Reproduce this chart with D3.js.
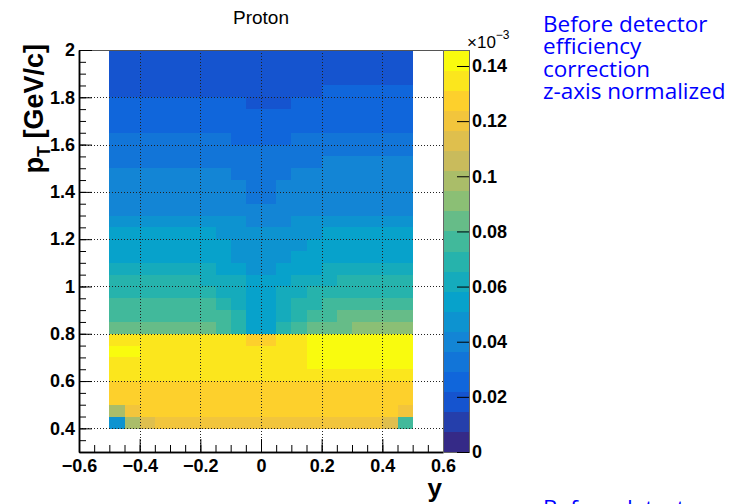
<!DOCTYPE html>
<html>
<head>
<meta charset="utf-8">
<script src="https://cdn.jsdelivr.net/npm/d3@7"></script>
<style>
  body { margin: 0; background: #fff; }
  svg text { font-family: "Liberation Sans", Arial, sans-serif; }
</style>
</head>
<body>
<div id="chart"></div>
<script>
// bin centres (rapidity y, transverse momentum pT)
var rapidityCenters = [-0.475, -0.425, -0.375, -0.325, -0.275, -0.225, -0.175, -0.125, -0.075, -0.025,
                        0.025, 0.075, 0.125, 0.175, 0.225, 0.275, 0.325, 0.375, 0.425, 0.475];
var ptCenters = [1.975, 1.925, 1.875, 1.825, 1.775, 1.725, 1.675, 1.625, 1.575, 1.525, 1.475, 1.425,
                 1.375, 1.325, 1.275, 1.225, 1.175, 1.125, 1.075, 1.025, 0.975, 0.925, 0.875, 0.825,
                 0.775, 0.725, 0.675, 0.625, 0.575, 0.525, 0.475, 0.425];
var binWidth = 0.05;

// z values (x10^-3), one row per pT bin, top row first
var zValues = [
  [.018,.018,.018,.018,.018,.018,.018,.018,.017,.016,.016,.017,.018,.018,.018,.018,.018,.018,.018,.018],
  [.018,.018,.018,.018,.018,.018,.018,.018,.017,.016,.016,.017,.018,.018,.018,.018,.018,.018,.018,.018],
  [.019,.019,.019,.019,.019,.019,.019,.019,.018,.016,.016,.018,.019,.019,.019,.019,.019,.019,.019,.019],
  [.021,.021,.021,.021,.021,.021,.021,.020,.019,.017,.017,.019,.020,.021,.023,.023,.023,.023,.023,.023],
  [.024,.024,.024,.024,.024,.024,.024,.023,.022,.020,.020,.021,.023,.024,.025,.025,.025,.025,.025,.025],
  [.026,.026,.026,.026,.026,.026,.026,.025,.025,.023,.023,.024,.025,.026,.026,.026,.026,.026,.026,.026],
  [.028,.028,.028,.028,.028,.028,.028,.027,.026,.025,.025,.026,.027,.028,.028,.028,.028,.028,.028,.028],
  [.031,.031,.031,.031,.031,.031,.031,.030,.029,.027,.027,.028,.030,.031,.031,.031,.031,.031,.031,.031],
  [.033,.033,.033,.033,.033,.033,.033,.032,.031,.030,.030,.031,.032,.033,.033,.033,.033,.033,.033,.033],
  [.035,.035,.035,.035,.035,.035,.035,.034,.033,.031,.031,.032,.034,.035,.037,.037,.037,.037,.037,.037],
  [.038,.038,.038,.038,.038,.038,.038,.037,.036,.033,.033,.035,.037,.038,.038,.038,.038,.038,.038,.038],
  [.040,.040,.040,.040,.040,.040,.040,.039,.038,.035,.035,.037,.039,.040,.040,.040,.040,.040,.040,.040],
  [.042,.042,.042,.042,.042,.042,.042,.041,.039,.036,.036,.038,.040,.041,.042,.042,.042,.042,.042,.042],
  [.043,.043,.043,.043,.043,.043,.043,.042,.040,.037,.037,.039,.041,.042,.043,.043,.043,.043,.043,.043],
  [.047,.047,.047,.047,.047,.047,.047,.046,.044,.040,.040,.042,.044,.046,.047,.047,.047,.047,.047,.047],
  [.052,.052,.052,.052,.052,.052,.052,.050,.048,.044,.044,.046,.048,.050,.052,.052,.052,.052,.052,.052],
  [.055,.055,.055,.055,.055,.054,.053,.052,.049,.045,.045,.048,.050,.052,.054,.054,.055,.055,.055,.055],
  [.057,.057,.057,.057,.057,.056,.055,.054,.050,.046,.046,.049,.052,.054,.056,.056,.057,.057,.057,.057],
  [.061,.061,.061,.061,.061,.060,.059,.057,.054,.049,.049,.053,.056,.058,.060,.060,.061,.061,.061,.061],
  [.067,.067,.067,.067,.067,.066,.065,.063,.059,.053,.053,.057,.061,.063,.065,.066,.067,.067,.067,.067],
  [.070,.070,.070,.070,.070,.069,.068,.065,.060,.054,.054,.059,.063,.066,.068,.069,.070,.070,.070,.070],
  [.076,.076,.076,.076,.076,.075,.073,.070,.065,.057,.057,.063,.067,.071,.074,.075,.076,.076,.076,.076],
  [.080,.080,.080,.080,.080,.079,.077,.073,.066,.058,.058,.065,.072,.076,.079,.081,.082,.082,.082,.082],
  [.085,.085,.085,.085,.085,.084,.082,.078,.070,.058,.058,.068,.077,.082,.085,.087,.088,.088,.088,.088],
  [.137,.137,.136,.136,.136,.136,.136,.136,.133,.130,.130,.133,.136,.141,.141,.141,.141,.141,.140,.140],
  [.139,.139,.137,.137,.137,.137,.137,.137,.135,.133,.133,.135,.138,.142,.142,.142,.142,.142,.142,.140],
  [.137,.137,.137,.136,.136,.136,.136,.136,.136,.135,.135,.136,.138,.141,.141,.141,.141,.141,.139,.139],
  [.134,.134,.134,.134,.134,.134,.134,.134,.133,.133,.133,.133,.135,.137,.137,.137,.137,.137,.135,.135],
  [.127,.128,.128,.128,.128,.128,.128,.128,.128,.128,.128,.128,.128,.129,.129,.129,.129,.129,.128,.128],
  [.125,.127,.127,.127,.127,.127,.127,.127,.127,.127,.127,.127,.127,.128,.128,.128,.128,.128,.127,.126],
  [.100,.120,.125,.125,.125,.125,.125,.125,.125,.125,.125,.125,.125,.126,.126,.126,.126,.126,.125,.120],
  [.045,.100,.115,.121,.121,.121,.121,.121,.120,.120,.120,.120,.121,.121,.121,.121,.121,.121,.110,.080]
];

// axis ticks
var xMajorTicks = [-0.6, -0.4, -0.2, 0, 0.2, 0.4, 0.6];
var yMajorTicks = [0.4, 0.6, 0.8, 1, 1.2, 1.4, 1.6, 1.8, 2];
var zTicks = [0, 0.02, 0.04, 0.06, 0.08, 0.1, 0.12, 0.14];
var zMax = 0.1458;
var nContours = 20;

// ROOT kBird palette stops
var birdStops = ["#352a87", "#0f5cdd", "#1481d6", "#06a4ca", "#2eb7a4", "#87bf77", "#d1bb59", "#fec832", "#f9fb0e"];

var infoLines = ["Before detector", "efficiency", "correction", "z-axis normalized"];

var width = 734, height = 504;
var svg = d3.select("#chart").append("svg")
  .attr("width", width)
  .attr("height", height);

// frame edges
var fLeft = 79, fRight = 443, fTop = 50, fBottom = 452;

var x = d3.scaleLinear().domain([-0.6, 0.6]).range([fLeft, fRight]);
var y = d3.scaleLinear().domain([0.3, 2.0]).range([fBottom, fTop]);
var z = d3.scaleLinear().domain([0, zMax]).range([fBottom, fTop]);

var bird = d3.scaleLinear()
  .domain(birdStops.map(function(d, i) { return i / (birdStops.length - 1); }))
  .range(birdStops)
  .interpolate(d3.interpolateRgb);
var bandColors = d3.range(nContours).map(function(i) { return bird(i / (nContours - 1)); });
var color = d3.scaleQuantize().domain([0, zMax]).range(bandColors);

// cells
var cells = [];
ptCenters.forEach(function(pt, r) {
  rapidityCenters.forEach(function(rap, c) {
    cells.push({ rap: rap, pt: pt, v: zValues[r][c] });
  });
});

svg.append("g")
  .attr("shape-rendering", "crispEdges")
  .selectAll("rect")
  .data(cells)
  .enter()
  .append("rect")
  .attr("x", function(d) { return x(d.rap - binWidth / 2); })
  .attr("y", function(d) { return y(d.pt + binWidth / 2); })
  .attr("width", function(d) { return x(d.rap + binWidth / 2) - x(d.rap - binWidth / 2) + 0.5; })
  .attr("height", function(d) { return y(d.pt - binWidth / 2) - y(d.pt + binWidth / 2) + 0.5; })
  .attr("fill", function(d) { return color(d.v); });

// dotted grid
var grid = svg.append("g")
  .attr("stroke", "#222")
  .attr("stroke-width", 1)
  .attr("stroke-dasharray", "1,2");
grid.selectAll("line.gx")
  .data(xMajorTicks.filter(function(t) { return t > -0.6 && t < 0.6; }))
  .enter().append("line")
  .attr("x1", function(d) { return Math.round(x(d)) + 0.5; })
  .attr("x2", function(d) { return Math.round(x(d)) + 0.5; })
  .attr("y1", fTop).attr("y2", fBottom);
grid.selectAll("line.gy")
  .data(yMajorTicks.filter(function(t) { return t < 2; }))
  .enter().append("line")
  .attr("y1", function(d) { return Math.round(y(d)) + 0.5; })
  .attr("y2", function(d) { return Math.round(y(d)) + 0.5; })
  .attr("x1", fLeft).attr("x2", fRight);

// frame box
svg.append("rect")
  .attr("x", fLeft + 0.5).attr("y", fTop + 0.5)
  .attr("width", fRight - fLeft).attr("height", fBottom - fTop)
  .attr("fill", "none")
  .attr("stroke", "#555");

var fmt = d3.format("~g");
var xMinorTicks = d3.range(-0.6, 0.6001, 0.05).map(function(d) { return +d.toFixed(2); });
var yMinorTicks = d3.range(0.3, 2.0001, 0.05).map(function(d) { return +d.toFixed(2); });

// x axis
svg.append("g")
  .attr("class", "xMinor")
  .attr("transform", "translate(0," + fBottom + ")")
  .call(d3.axisBottom(x).tickValues(xMinorTicks).tickSize(-7).tickSizeOuter(0).tickFormat(""));
svg.append("g")
  .attr("class", "xAxis")
  .attr("transform", "translate(0," + fBottom + ")")
  .call(d3.axisBottom(x).tickValues(xMajorTicks).tickSize(-13).tickSizeOuter(0).tickPadding(7).tickFormat(fmt));

// y axis
svg.append("g")
  .attr("class", "yMinor")
  .attr("transform", "translate(" + fLeft + ",0)")
  .call(d3.axisLeft(y).tickValues(yMinorTicks).tickSize(-7).tickSizeOuter(0).tickFormat(""));
svg.append("g")
  .attr("class", "yAxis")
  .attr("transform", "translate(" + fLeft + ",0)")
  .call(d3.axisLeft(y).tickValues(yMajorTicks).tickSize(-13).tickSizeOuter(0).tickPadding(4).tickFormat(fmt));

svg.selectAll(".xAxis text, .yAxis text")
  .attr("font-size", 18)
  .attr("font-weight", "bold")
  .attr("fill", "#000");
svg.selectAll(".xAxis path, .yAxis path, .xMinor path, .yMinor path")
  .attr("stroke", "#000").attr("stroke-width", 1.5);

// colour bar
var cbLeft = 443, cbRight = 469;
var bandEdges = d3.range(nContours).map(function(i) { return i * zMax / nContours; });
svg.append("g")
  .attr("shape-rendering", "crispEdges")
  .selectAll("rect")
  .data(bandEdges)
  .enter()
  .append("rect")
  .attr("x", cbLeft)
  .attr("width", cbRight - cbLeft)
  .attr("y", function(d) { return z(d + zMax / nContours); })
  .attr("height", function(d) { return z(d) - z(d + zMax / nContours) + 0.5; })
  .attr("fill", function(d, i) { return bandColors[i]; });
svg.append("rect")
  .attr("x", cbLeft + 0.5).attr("y", fTop + 0.5)
  .attr("width", cbRight - cbLeft).attr("height", fBottom - fTop)
  .attr("fill", "none").attr("stroke", "#666");

svg.append("g")
  .attr("class", "zAxis")
  .attr("transform", "translate(" + cbRight + ",0)")
  .call(d3.axisRight(z).tickValues(zTicks).tickSize(-12).tickSizeOuter(0).tickPadding(3).tickFormat(fmt));
svg.select(".zAxis path").remove();
svg.selectAll(".zAxis text")
  .attr("font-size", 18)
  .attr("font-weight", "bold")
  .attr("fill", "#000");

var expo = svg.append("text")
  .attr("x", 467).attr("y", 48)
  .attr("font-size", 17);
expo.append("tspan").text("\u00d710");
expo.append("tspan").attr("dy", -9).attr("font-size", 12).text("\u22123");

// title and axis labels
svg.append("text")
  .attr("x", 261).attr("y", 24)
  .attr("text-anchor", "middle")
  .attr("font-size", 19)
  .text("Proton");

svg.append("text")
  .attr("x", 442).attr("y", 497)
  .attr("text-anchor", "end")
  .attr("font-size", 26)
  .attr("font-weight", "bold")
  .text("y");

var yLab = svg.append("text")
  .attr("transform", "translate(43,44) rotate(-90)")
  .attr("text-anchor", "end")
  .attr("font-size", 27)
  .attr("font-weight", "bold");
yLab.append("tspan").text("p");
yLab.append("tspan").attr("dy", 7).attr("font-size", 18).text("T");
yLab.append("tspan").attr("dy", -7).text(" [GeV/c]");

// side notes
var note = svg.append("text")
  .style("font-family", "'Open Sans', 'Noto Sans', sans-serif")
  .attr("x", 543).attr("y", 32)
  .attr("font-size", 22.5)
  .attr("fill", "#0000ff");
note.selectAll("tspan")
  .data(infoLines)
  .enter().append("tspan")
  .attr("x", 543)
  .attr("dy", function(d, i) { return i === 0 ? 0 : 22.3; })
  .text(function(d) { return d; });

svg.append("text")
  .style("font-family", "'Open Sans', 'Noto Sans', sans-serif")
  .attr("x", 543).attr("y", 516)
  .attr("font-size", 22.5)
  .attr("fill", "#0000ff")
  .text(infoLines[0]);
</script>
</body>
</html>
